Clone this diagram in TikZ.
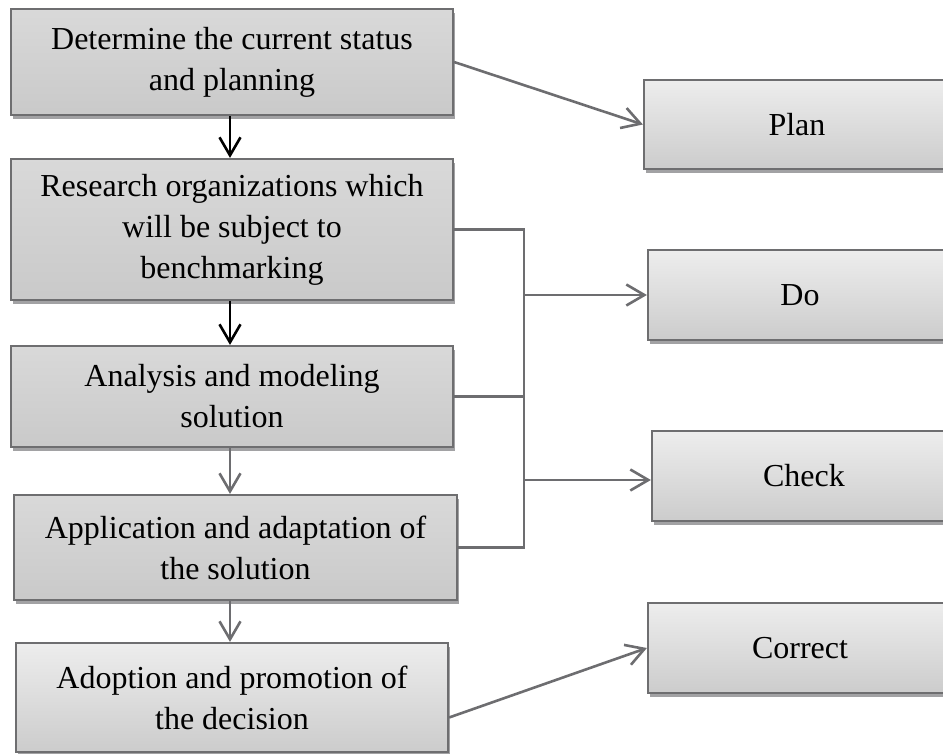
\documentclass[tikz,border=0pt]{standalone}
\usepackage{fontspec}
\setmainfont{Liberation Serif}
\usetikzlibrary{arrows.meta, shadows}

\definecolor{boxline}{HTML}{6E6E70}
\definecolor{linkgrey}{HTML}{6D6D70}
\definecolor{shadowgrey}{HTML}{A2A2A4}

\tikzset{
  box/.style={draw=boxline, line width=2.2pt, inner sep=0pt, align=center,
    font=\fontsize{32}{41}\selectfont,
    drop shadow={shadow xshift=1.5pt, shadow yshift=-3.5pt, fill=shadowgrey, opacity=1}},
  stepbox/.style={box, top color=gray!30!white, bottom color=gray!42!white},
  phasebox/.style={box, top color=gray!14!white, bottom color=gray!40!white},
  flow/.style={line width=2.6pt, -{Straight Barb[length=18pt, width=21pt]}},
  link/.style={linkgrey, line width=2.6pt},
  linkto/.style={link, -{Straight Barb[length=18pt, width=21pt]}},
}

\begin{document}
\begin{tikzpicture}[x=1pt, y=-1pt]

\useasboundingbox (0,0) rectangle (943,753);
\clip (0,0) rectangle (943,753);

% steps
\node[stepbox, minimum width=442pt, minimum height=106pt] (s1) at (232,62)
  {Determine the current status\\and planning};
\node[stepbox, minimum width=442pt, minimum height=141pt] (s2) at (232,229.5)
  {Research organizations which\\will be subject to\\benchmarking};
\node[stepbox, minimum width=442pt, minimum height=101pt] (s3) at (232,396.5)
  {Analysis and modeling\\solution};
\node[stepbox, minimum width=443pt, minimum height=105pt] (s4) at (235.5,547.5)
  {Application and adaptation of\\the solution};
\node[phasebox, minimum width=432pt, minimum height=109pt] (s5) at (232,697.5)
  {Adoption and promotion of\\the decision};

% PDCA phases
\node[phasebox, minimum width=306pt, minimum height=89pt] (plan) at (797,124.5) {Plan};
\node[phasebox, minimum width=304pt, minimum height=90pt] (do) at (800,295) {Do};
\node[phasebox, minimum width=304pt, minimum height=90pt] (check) at (804,476) {Check};
\node[phasebox, minimum width=304pt, minimum height=90pt] (correct) at (800,648) {Correct};

\draw[flow] (s1.south -| 230,0) -- (s2.north -| 230,0);
\draw[flow] (s2.south -| 230,0) -- (s3.north -| 230,0);
\draw[linkto] (s3.south -| 230,0) -- (s4.north -| 230,0);
\draw[linkto] (s4.south -| 230,0) -- (s5.north -| 230,0);

\draw[linkto] (s1.east) -- (plan.west);

% do / check bus
\coordinate (bus) at (524,0);
\draw[link] (s2.east) -- (s2.east -| bus) |- (s4.east);
\draw[link] (s3.east) -- (s3.east -| bus);
\draw[linkto] (bus |- do.west) -- (do.west);
\draw[linkto] (bus |- 0,480) -- (check.west |- 0,480);

\draw[linkto] ([yshift=-20pt]s5.east) -- (correct.west);

\end{tikzpicture}
\end{document}
